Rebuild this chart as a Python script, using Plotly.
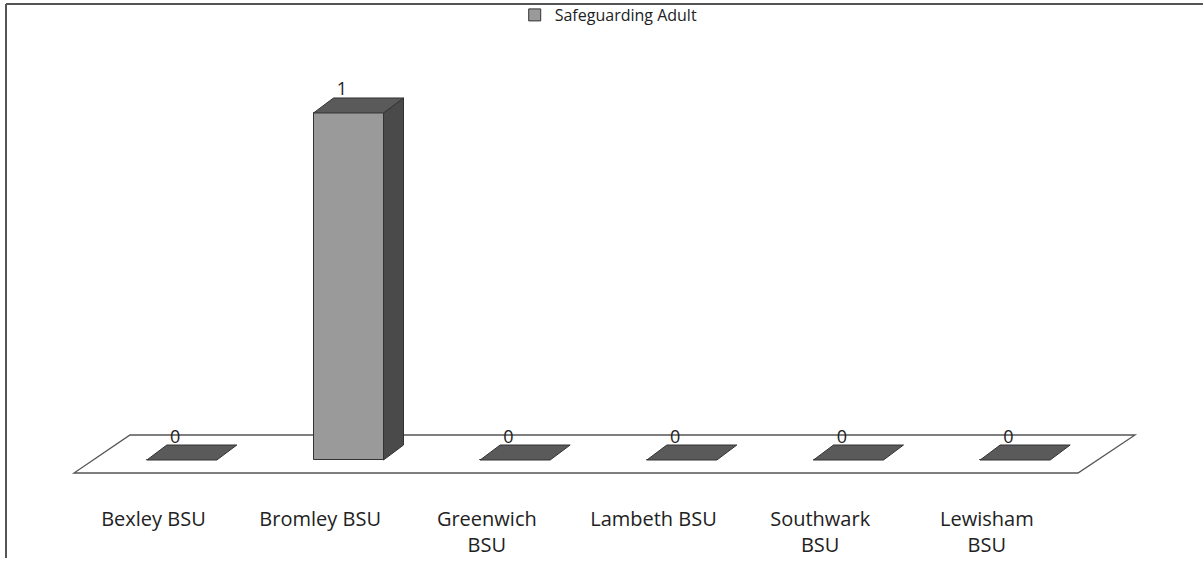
import plotly.graph_objects as go

categories = ["Bexley BSU", "Bromley BSU", "Greenwich<br>BSU", "Lambeth BSU", "Southwark<br>BSU", "Lewisham<br>BSU"]
values = [0, 1, 0, 0, 0, 0]
series_name = "Safeguarding Adult"

W, H = 1203, 562
ML, MR, MT, MB = 71, 63, 63, 65
XR = [-0.665, 5.749]
YR = [-0.1066, 1.144]
pw = W - ML - MR
ph = H - MT - MB
xu = pw / (XR[1] - XR[0])   # px per x unit
yu = ph / (YR[1] - YR[0])   # px per y unit

bw = 0.42                   # bar width (x units)
dx = 20 / xu                # depth offset
dy = 15 / yu

pos = list(range(len(categories)))

front_col = "#9a9a9a"
side_col = "#4a4a4a"
top_col = "#5a5a5a"
edge = "#333333"

fig = go.Figure()

# floor (3D base plane)
fx0, fx1 = -0.647, 5.377
fbx0, fbx1 = -0.311, 5.719
fy0, fy1 = -0.0375, 0.072
fig.add_shape(type="path",
              path=f"M {fx0} {fy0} L {fx1} {fy0} L {fbx1} {fy1} L {fbx0} {fy1} Z",
              xref="x", yref="y", line=dict(color="#555555", width=1.3),
              fillcolor="rgba(0,0,0,0)", layer="below")

# front faces
fig.add_trace(go.Bar(x=pos, y=values, width=bw, name=series_name,
                     marker=dict(color=front_col, line=dict(color=edge, width=1)),
                     showlegend=True, hoverinfo="skip"))

for p, v in zip(pos, values):
    l, r = p - bw / 2, p + bw / 2
    if v > 0:
        fig.add_trace(go.Scatter(x=[r, r + dx, r + dx, r, r], y=[0, dy, v + dy, v, 0],
                                 fill="toself", fillcolor=side_col, mode="lines",
                                 line=dict(color=edge, width=1), showlegend=False, hoverinfo="skip"))
    fig.add_trace(go.Scatter(x=[l, r, r + dx, l + dx, l], y=[v, v, v + dy, v + dy, v],
                             fill="toself", fillcolor=top_col, mode="lines",
                             line=dict(color=edge, width=1), showlegend=False, hoverinfo="skip"))

# data labels
fig.add_trace(go.Scatter(x=[p - 0.04 for p in pos], y=[v + dy - 2 / yu for v in values],
                         mode="text", text=[str(v) for v in values], textposition="top center",
                         textfont=dict(size=18, color="#222222", family="Open Sans"),
                         showlegend=False, hoverinfo="skip"))

# chart border (top and left)
bx = (6 - ML) / pw
by_top = (H - MB - 4) / ph
by_bot = (H - MB - 558) / ph
fig.add_shape(type="line", xref="paper", yref="paper", x0=bx, x1=(W - ML) / pw, y0=by_top, y1=by_top,
              line=dict(color="#555555", width=2))
fig.add_shape(type="line", xref="paper", yref="paper", x0=bx, x1=bx, y0=by_top, y1=by_bot,
              line=dict(color="#555555", width=2))

fig.update_layout(
    width=W, height=H,
    margin=dict(l=ML, r=MR, t=MT, b=MB, autoexpand=False),
    plot_bgcolor="white", paper_bgcolor="white",
    font=dict(family="Open Sans", size=16, color="#222222"),
    showlegend=True,
    legend=dict(orientation="h", x=0.503, xanchor="center", y=(H - MB - 15) / ph, yanchor="middle",
                font=dict(size=16), itemwidth=30, bgcolor="rgba(0,0,0,0)"),
    xaxis=dict(range=XR, tickmode="array", tickvals=[p - 0.17 for p in pos], ticktext=categories,
               showgrid=False, zeroline=False, showline=False, ticks="", automargin=False,
               tickfont=dict(size=20, color="#222222"), ticklabelstandoff=8),
    yaxis=dict(range=YR, visible=False, showgrid=False, zeroline=False, automargin=False),
    bargap=0,
)

fig.write_html("out.html", config={"displayModeBar": False},
               post_script="document.body.style.margin='0';document.body.style.overflow='hidden';")
